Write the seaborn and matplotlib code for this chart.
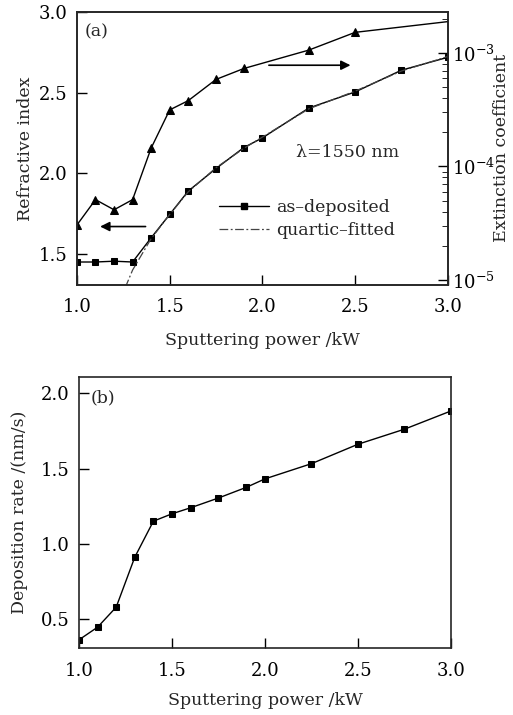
import numpy as np
import pandas as pd
import seaborn as sns
import matplotlib.pyplot as plt
from matplotlib.lines import Line2D

# data
power = [1.0, 1.1, 1.2, 1.3, 1.4, 1.5, 1.6, 1.75, 1.9, 2.0, 2.25, 2.5, 2.75, 3.0]
n_index = [1.45, 1.45, 1.455, 1.45, 1.60, 1.745, 1.89, 2.03, 2.16, 2.22, 2.405, 2.505, 2.64, 2.72]

fit_power = [1.26, 1.30, 1.40, 1.50, 1.60, 1.75, 1.90, 2.00, 2.25, 2.50, 2.75, 3.00]
fit_index = [1.29, 1.40, 1.595, 1.745, 1.885, 2.035, 2.155, 2.225, 2.40, 2.51, 2.635, 2.725]

power_k = [1.0, 1.1, 1.2, 1.3, 1.4, 1.5, 1.6, 1.75, 1.9, 2.25, 2.5, 3.0]
ext_coef = [3.05e-5, 5.1e-5, 4.15e-5, 5.1e-5, 1.45e-4, 3.15e-4, 3.8e-4, 5.85e-4, 7.3e-4, 1.06e-3, 1.52e-3, 1.89e-3]

dep_rate = [0.363, 0.447, 0.58, 0.912, 1.151, 1.20, 1.24, 1.305, 1.376, 1.432, 1.533, 1.662, 1.762, 1.883]

sns.set_style("ticks")
plt.rcParams['font.family'] = ['DejaVu Serif']
plt.rcParams['mathtext.fontset'] = 'dejavuserif'
plt.rcParams['font.size'] = 12.5
plt.rcParams['axes.linewidth'] = 1.2
for a in ['xtick', 'ytick']:
    plt.rcParams[a + '.direction'] = 'in'
    plt.rcParams[a + '.major.size'] = 7
    plt.rcParams[a + '.minor.size'] = 4
    plt.rcParams[a + '.major.width'] = 1.0
    plt.rcParams[a + '.labelsize'] = 13
    plt.rcParams[a + '.color'] = 'black'
plt.rcParams['xtick.major.pad'] = 10
plt.rcParams['ytick.major.pad'] = 7

fig = plt.figure(figsize=(5.13, 7.15), dpi=100)
ax1 = fig.add_axes([0.150, 0.602, 0.723, 0.381])
ax2 = fig.add_axes([0.154, 0.094, 0.725, 0.379])

fit_style = (0, (7, 2, 1.5, 2))

# --- panel (a) ---
sns.lineplot(x=power, y=n_index, ax=ax1, color='black', lw=1.0,
             marker='s', markersize=5, markeredgecolor='black')
sns.lineplot(x=fit_power, y=fit_index, ax=ax1, color='#444444', lw=0.9,
             linestyle=fit_style)
ax1.set_xlim(1.0, 3.0)
ax1.set_ylim(1.31, 3.0)
ax1.set_xticks([1.0, 1.5, 2.0, 2.5, 3.0])
ax1.set_yticks([1.5, 2.0, 2.5, 3.0])
ax1.set_xlabel("Sputtering power /kW", labelpad=11)
ax1.set_ylabel("Refractive index", labelpad=3)
ax1.text(0.022, 0.96, "(a)", transform=ax1.transAxes, va='top', ha='left')
ax1.text(0.730, 0.485, "λ=1550 nm", transform=ax1.transAxes, va='center', ha='center')

ax1r = ax1.twinx()
sns.lineplot(x=power_k, y=ext_coef, ax=ax1r, color='black', lw=1.0,
             marker='^', markersize=6, markeredgecolor='black',
             markevery=list(range(len(power_k) - 1)))
ax1r.set_yscale('log')
ax1r.set_ylim(9.1e-6, 2.29e-3)
ax1r.tick_params(axis='y', which='both', direction='in', pad=3)
ax1r.set_ylabel("Extinction coefficient")
ax1r.yaxis.set_label_coords(1.1456, 0.5)
ax1r.yaxis.label.set_va('center')

legend_handles = [
    Line2D([], [], color='black', lw=1.0, marker='s', markersize=5),
    Line2D([], [], color='#444444', lw=0.9, linestyle=fit_style),
]
ax1r.legend(legend_handles, ["as–deposited", "quartic–fitted"], frameon=False,
            loc='center left', bbox_to_anchor=(0.340, 0.242), handlelength=2.9,
            labelspacing=0.35, handletextpad=0.4, borderpad=0.4, fontsize=12.5)

# arrows pointing to the corresponding axis
ax1.annotate("", xy=(1.11, 1.67), xytext=(1.385, 1.67),
             arrowprops=dict(arrowstyle='-|>', color='black', lw=1.2,
                             mutation_scale=14))
ax1r.annotate("", xy=(2.49, 7.8e-4), xytext=(2.02, 7.8e-4),
              arrowprops=dict(arrowstyle='-|>', color='black', lw=1.2,
                              mutation_scale=14))

# --- panel (b) ---
sns.lineplot(x=power, y=dep_rate, ax=ax2, color='black', lw=1.0,
             marker='s', markersize=5, markeredgecolor='black')
ax2.set_xlim(1.0, 3.0)
ax2.set_ylim(0.31, 2.11)
ax2.set_xticks([1.0, 1.5, 2.0, 2.5, 3.0])
ax2.set_yticks([0.5, 1.0, 1.5, 2.0])
ax2.set_xlabel("Sputtering power /kW", labelpad=9)
ax2.set_ylabel("Deposition rate /(nm/s)", labelpad=9)
ax2.text(0.03, 0.955, "(b)", transform=ax2.transAxes, va='top', ha='left')

for ax in [ax1, ax2]:
    ax.xaxis.set_major_formatter(plt.FormatStrFormatter('%.1f'))
    ax.yaxis.set_major_formatter(plt.FormatStrFormatter('%.1f'))

fig.savefig("out.png", dpi=100)
